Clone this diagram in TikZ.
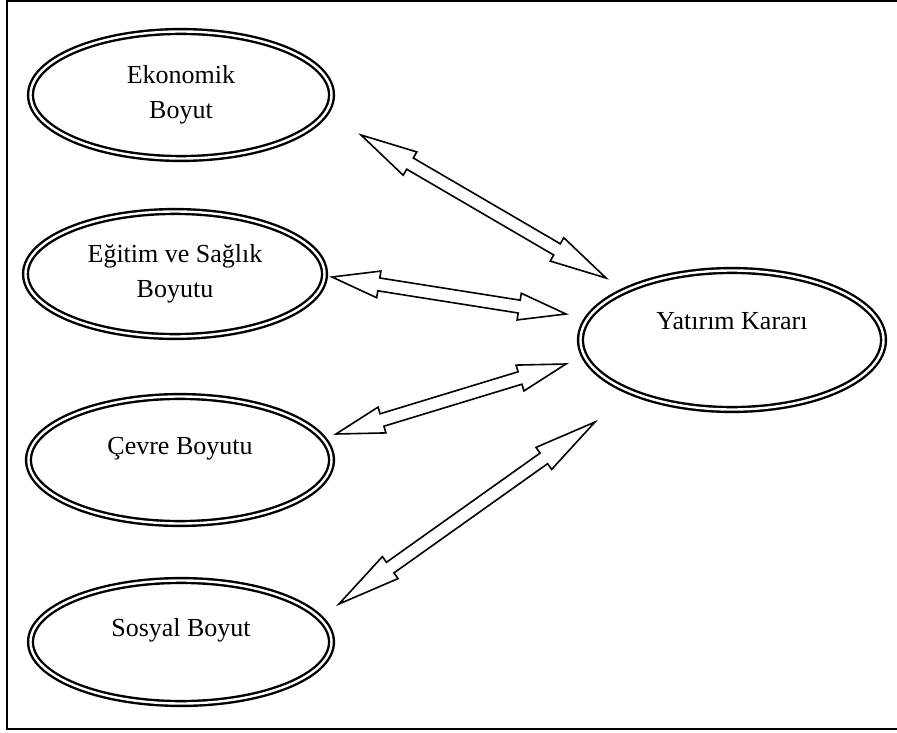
\documentclass[tikz,border=0pt]{standalone}
\usepackage{fontspec}
\setmainfont{Liberation Serif}
\usetikzlibrary{shapes.geometric,calc}
\tikzset{
  dim/.style={ellipse, draw, line width=2.4pt, double, double distance=2.4pt,
    inner sep=0pt, font=\fontsize{26}{35}\selectfont, align=center},
  barrow/.style={draw, line width=1.6pt, fill=white, line join=miter},
  frame/.style={draw, line width=2.4pt},
}
\newcommand{\blockarrow}[2]{%
  \path ($(#1)!0.2!(#2)$) coordinate (hA) ($(#2)!0.2!(#1)$) coordinate (hB);
  \draw[barrow] (#1) -- ($(hA)!13.5pt!90:(#2)$) -- ($(hA)!6.5pt!90:(#2)$)
    -- ($(hB)!6.5pt!-90:(#1)$) -- ($(hB)!13.5pt!-90:(#1)$) -- (#2)
    -- ($(hB)!13.5pt!90:(#1)$) -- ($(hB)!6.5pt!90:(#1)$)
    -- ($(hA)!6.5pt!-90:(#2)$) -- ($(hA)!13.5pt!-90:(#2)$) -- cycle;
}
\begin{document}
\begin{tikzpicture}[x=1pt,y=-1pt]
  \useasboundingbox (0,0) rectangle (897,733);
  \clip (0,0) rectangle (897,733);
  \draw[frame] (7,1) rectangle (910,729);

  \node[dim, minimum width=301pt, minimum height=127pt] (eko) at (181,95) {Ekonomik\\Boyut};
  \node[dim, minimum width=299pt, minimum height=125pt] (egi) at (175,274) {Eğitim ve Sağlık\\Boyutu};
  \node[dim, minimum width=303pt, minimum height=127pt, text height=20pt, text depth=32pt] (cev) at (180,460) {Çevre Boyutu};
  \node[dim, minimum width=301pt, minimum height=123pt, text height=20pt, text depth=32pt] (sos) at (181,642) {Sosyal Boyut};
  \node[dim, minimum width=303pt, minimum height=139pt, text height=20pt, text depth=42pt] (yat) at (732,340) {Yatırım Kararı};

  \coordinate (a1s) at (361,135); \coordinate (a1e) at (606,278);
  \coordinate (a2s) at (332,277); \coordinate (a2e) at (566,314);
  \coordinate (a3s) at (336,434); \coordinate (a3e) at (566,364);
  \coordinate (a4s) at (339,604); \coordinate (a4e) at (595,422);

  \blockarrow{a1s}{a1e}
  \blockarrow{a2s}{a2e}
  \blockarrow{a3s}{a3e}
  \blockarrow{a4s}{a4e}
\end{tikzpicture}
\end{document}
